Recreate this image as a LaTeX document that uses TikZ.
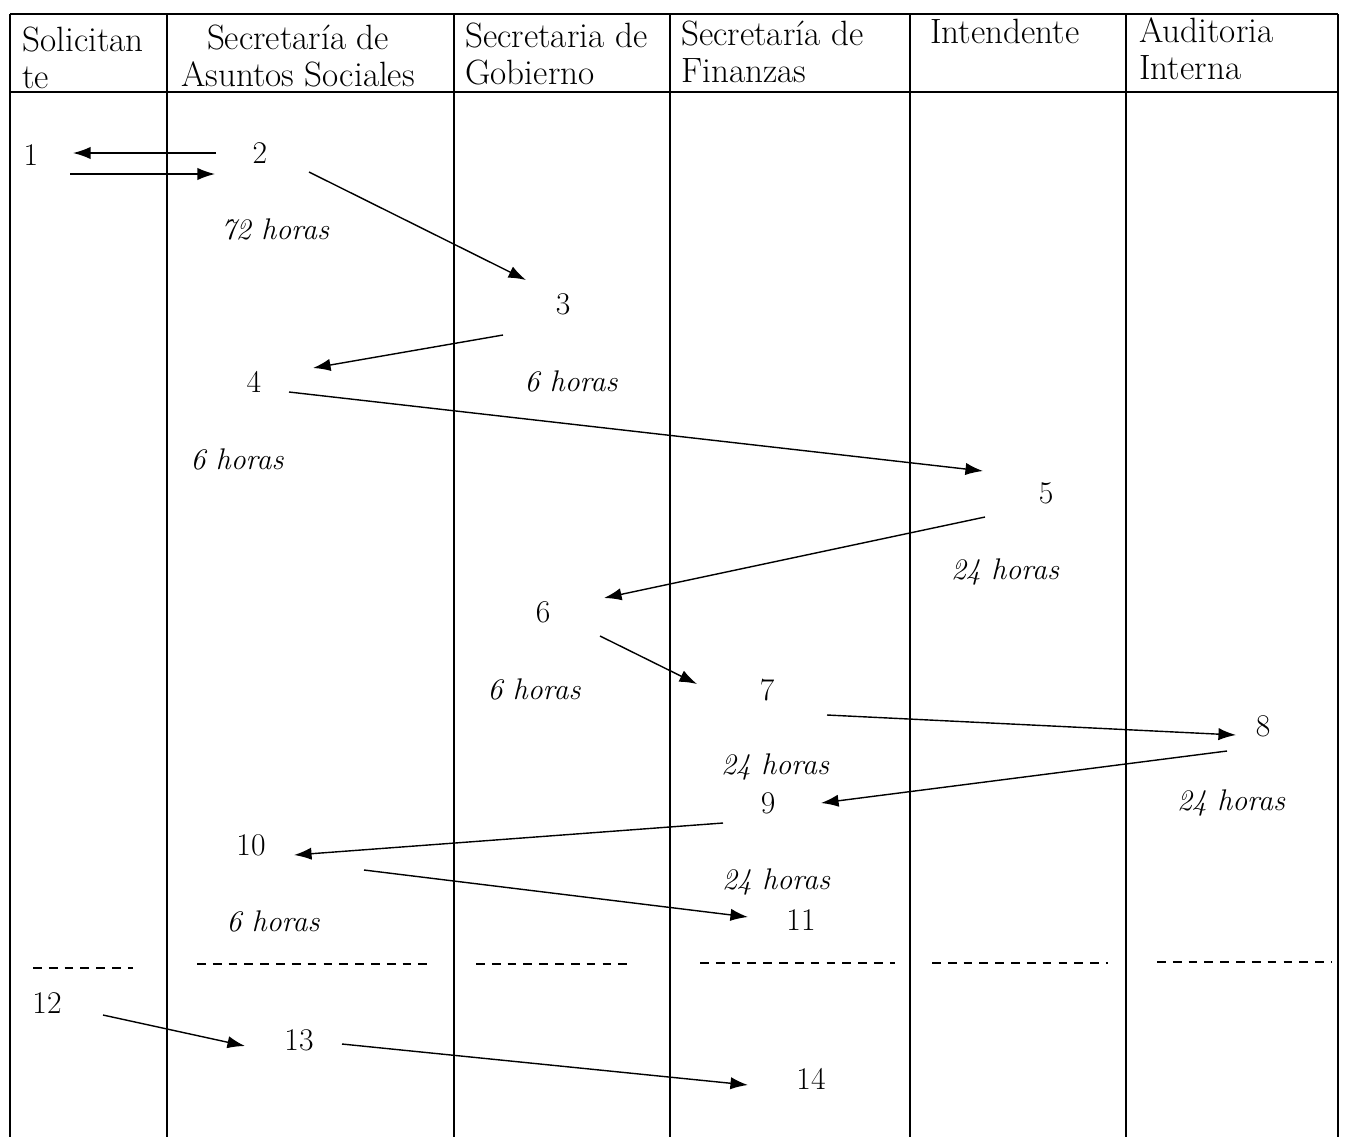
\documentclass[tikz,border=0pt]{standalone}
\usepackage{fontspec}
\usepackage{tikz}
\usetikzlibrary{arrows.meta,positioning}

\begin{document}
\begin{tikzpicture}[x=0.02cm, y=-0.02cm, font=\fontsize{18}{21}\selectfont]

% Define styles
\tikzstyle{paso} = [inner sep=0pt]
\tikzstyle{tiempo} = [inner sep=0pt, font=\fontsize{17}{21}\selectfont\itshape]
\tikzstyle{titulo} = [inner sep=0pt, anchor=north west, align=left, font=\fontsize{20}{21}\selectfont]
\tikzstyle{linea} = [line width=0.8pt]
\tikzstyle{corte} = [line width=0.9pt, dash pattern=on 5pt off 4pt]
\tikzstyle{arrow} = [line width=0.8pt, -{Latex[length=10pt,width=7pt]}]

\useasboundingbox (0,0) rectangle (1348,1137);

% Table
\draw [linea] (10,14) -- (1338,14);
\draw [linea] (10,92) -- (1338,92);
\foreach \x in {10,167,454,670,910,1126,1338}
  \draw [linea] (\x,14) -- (\x,1137);

% Headers
\node [titulo] (solicitante) at (22,27) {Solicitan\\te};
\node [titulo, align=center, anchor=north] (sociales) at (298,25) {Secretaría de\\Asuntos Sociales};
\node [titulo] (gobierno) at (465,23) {Secretaria de\\Gobierno};
\node [titulo] (finanzas) at (681,21) {Secretaría de\\Finanzas};
\node [titulo] (intendente) at (930,19) {Intendente};
\node [titulo] (auditoria) at (1139,17) {Auditoria\\Interna};

% Steps
\node [paso] (p1) at (31,155) {1};
\node [paso] (p2) at (260,153) {2};
\node [paso] (p3) at (563,304) {3};
\node [paso] (p4) at (254,382) {4};
\node [paso] (p5) at (1046,493) {5};
\node [paso] (p6) at (543,612) {6};
\node [paso] (p7) at (767,690) {7};
\node [paso] (p8) at (1263,726) {8};
\node [paso] (p9) at (768,803) {9};
\node [paso] (p10) at (251,845) {10};
\node [paso] (p11) at (801,920) {11};
\node [paso] (p12) at (47,1003) {12};
\node [paso] (p13) at (299,1040) {13};
\node [paso] (p14) at (811,1079) {14};

% Times
\node [tiempo] (t2) at (275,229) {72 horas};
\node [tiempo] (t3) at (571,381) {6 horas};
\node [tiempo] (t4) at (237,459) {6 horas};
\node [tiempo] (t5) at (1005,572) {24 horas};
\node [tiempo] (t6) at (534,689) {6 horas};
\node [tiempo] (t7) at (775,767) {24 horas};
\node [tiempo] (t8) at (1231,803) {24 horas};
\node [tiempo] (t9) at (776,882) {24 horas};
\node [tiempo] (t10) at (273,921) {6 horas};

% Cut
\foreach \a/\b/\y in {33/133/968, 197/428/964, 476/633/964, 700/895/963, 932/1108/963, 1157/1332/962}
  \draw [corte] (\a,\y) -- (\b,\y);

% Arrows
\draw [arrow] ([shift={(-44,0)}]p2.center) -- ([shift={(42,-2)}]p1.center);
\draw [arrow] ([shift={(39,19)}]p1.center) -- ([shift={(-45,21)}]p2.center);
\draw [arrow] ([shift={(49,19)}]p2.center) -- ([shift={(-37,-24)}]p3.center);
\draw [arrow] ([shift={(-60,31)}]p3.center) -- ([shift={(59,-14)}]p4.center);
\draw [arrow] ([shift={(35,10)}]p4.center) -- ([shift={(-63,-22)}]p5.center);
\draw [arrow] ([shift={(-61,24)}]p5.center) -- ([shift={(61,-14)}]p6.center);
\draw [arrow] ([shift={(57,24)}]p6.center) -- ([shift={(-70,-6)}]p7.center);
\draw [arrow] ([shift={(60,25)}]p7.center) -- ([shift={(-27,9)}]p8.center);
\draw [arrow] ([shift={(-36,25)}]p8.center) -- ([shift={(53,0)}]p9.center);
\draw [arrow] ([shift={(-45,20)}]p9.center) -- ([shift={(43,10)}]p10.center);
\draw [arrow] ([shift={(113,25)}]p10.center) -- ([shift={(-53,-3)}]p11.center);
\draw [arrow] ([shift={(56,12)}]p12.center) -- ([shift={(-54,6)}]p13.center);
\draw [arrow] ([shift={(43,4)}]p13.center) -- ([shift={(-63,6)}]p14.center);

\end{tikzpicture}
\end{document}
